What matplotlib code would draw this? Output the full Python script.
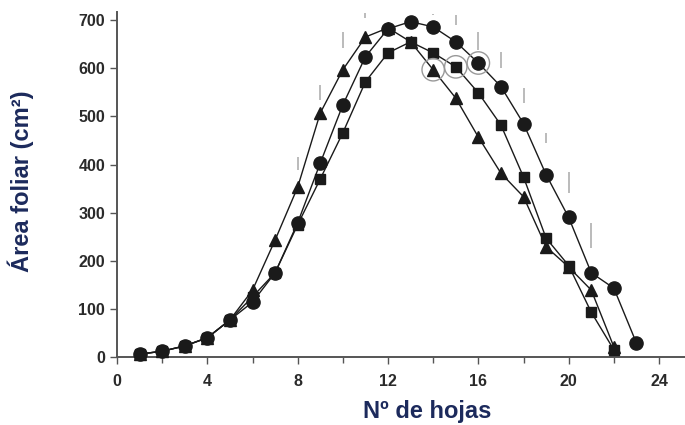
import numpy as np
import matplotlib.pyplot as plt
from matplotlib.ticker import MultipleLocator

# leaf area per leaf position, three treatments
leaves_tri = list(range(1, 23))
area_tri = [6, 12, 23, 40, 77, 139, 243, 353, 507, 597, 665, 684, 655, 597,
            538, 457, 382, 333, 229, 187, 139, 21]

leaves_sq = list(range(1, 23))
area_sq = [6, 12, 23, 40, 77, 125, 175, 275, 370, 466, 572, 632, 655, 632,
           603, 549, 482, 374, 247, 190, 93, 15]

leaves_circ = list(range(1, 24))
area_circ = [6, 12, 23, 40, 77, 114, 175, 279, 403, 524, 624, 682, 697, 686,
             655, 611, 562, 485, 379, 290, 175, 143, 29]

# vertical bars drawn above the curves
bar_leaf = [8, 9, 10, 11, 14, 15, 16, 17, 18, 19, 20, 21]
bar_low = [389, 534, 642, 705, 710, 690, 638, 601, 528, 445, 341, 227]
bar_high = [416, 565, 676, 715, 713, 711, 676, 634, 559, 466, 385, 279]

# circled points
hl_x = [14, 15, 16]
hl_y = [597, 603, 611]

xticks = [0, 4, 8, 12, 16, 20, 24]
yticks = [0, 100, 200, 300, 400, 500, 600, 700]

plt.rcParams['font.family'] = ['Liberation Sans', 'DejaVu Sans']
label_color = '#1c2a5c'

fig = plt.figure(figsize=(6.85, 4.25), dpi=100)
ax = fig.add_axes([117 / 685, 68 / 425, 568 / 685, 345 / 425])

line_col = '#1a1a1a'
ax.plot(leaves_tri, area_tri, '-', color=line_col, lw=1.0, marker='^', ms=8,
        clip_on=False, zorder=3)
ax.plot(leaves_sq, area_sq, '-', color=line_col, lw=1.0, marker='s', ms=6.5,
        clip_on=False, zorder=3)
ax.plot(leaves_circ, area_circ, '-', color=line_col, lw=1.0, marker='o', ms=9.5,
        clip_on=False, zorder=3)

ax.scatter(hl_x, hl_y, s=260, facecolors='none', edgecolors='#999999',
           linewidths=1.0, zorder=4)

ax.vlines(bar_leaf, bar_low, bar_high, colors='#a8a8a8', lw=1.1, zorder=2,
          clip_on=False)

ax.set_xlim(0, 25.15)
ax.set_ylim(0, 717)
ax.set_xticks(xticks)
ax.set_yticks(yticks)
ax.xaxis.set_minor_locator(MultipleLocator(2))

for s in ['top', 'right']:
    ax.spines[s].set_visible(False)
for s in ['left', 'bottom']:
    ax.spines[s].set_color('#555555')
    ax.spines[s].set_linewidth(1.4)

ax.tick_params(axis='both', which='both', direction='out', color='#555555',
               width=1.0, labelsize=11.5, labelcolor='#2a2a2a')
ax.tick_params(axis='both', which='major', length=5)
ax.tick_params(axis='x', which='major', pad=7)
ax.tick_params(axis='x', which='minor', length=4)
for t in ax.get_xticklabels() + ax.get_yticklabels():
    t.set_fontweight('bold')

ax.set_xlabel('Nº de hojas', fontsize=17, fontweight='bold',
              color=label_color, va='center')
ax.xaxis.set_label_coords(0.546, -0.158)
ax.set_ylabel('Área foliar (cm²)', fontsize=17,
              fontweight='bold', color=label_color, va='center')
ax.yaxis.set_label_coords(-0.169, 0.51)

fig.savefig('out.png', dpi=100)
